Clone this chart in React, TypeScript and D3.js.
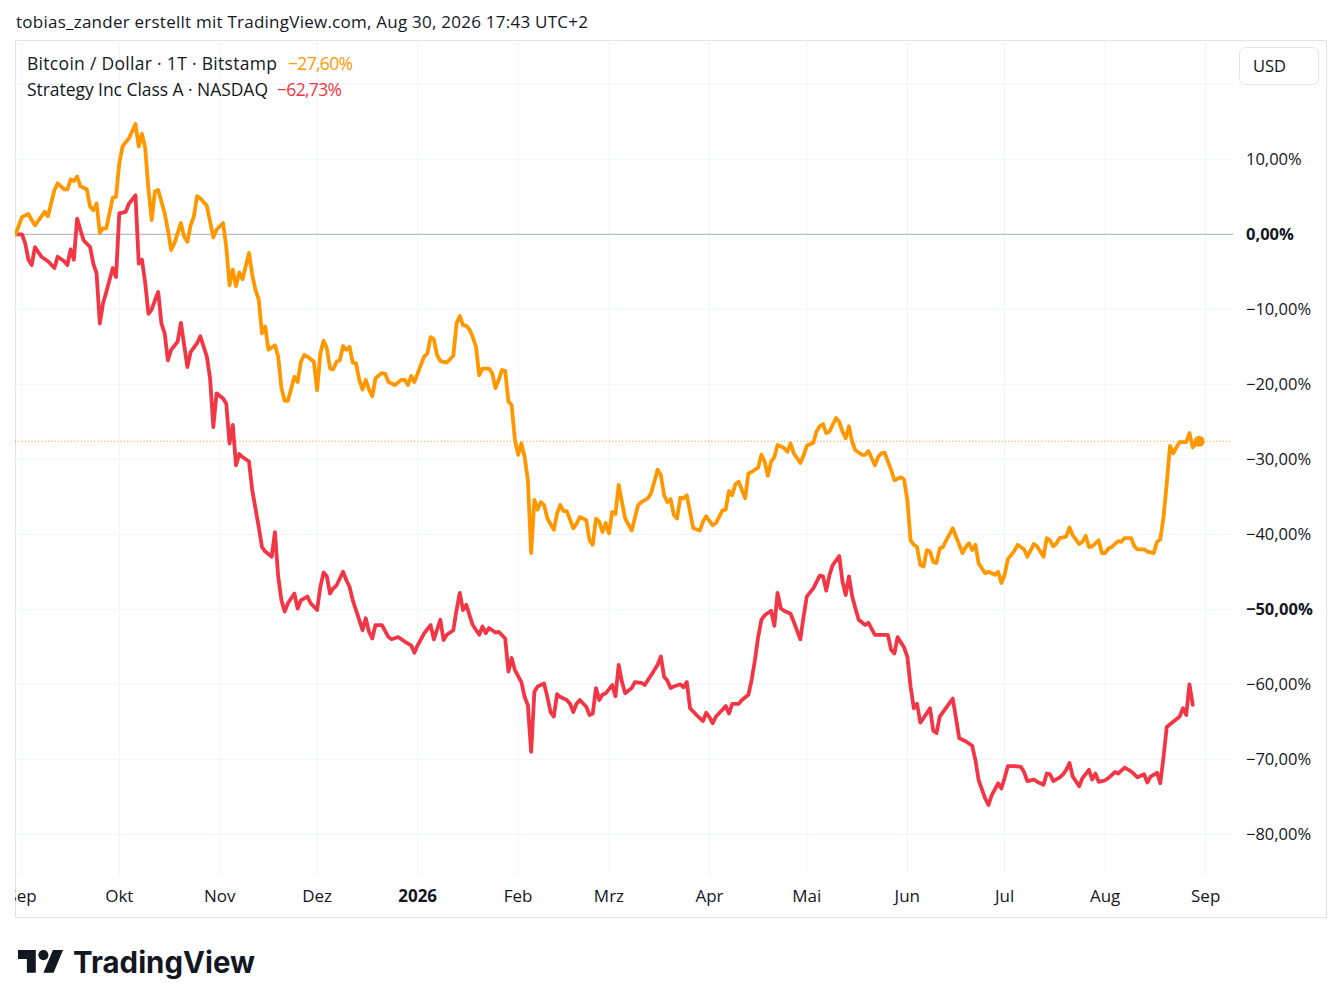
import { useMemo } from 'react';
import * as d3 from 'd3';

const width = 1341;
const height = 1007;
const frame = { left: 15, top: 40, right: 1326, bottom: 917 };
const plot = { left: 15, top: 40, right: 1233, bottom: 875 };

const startDate = new Date(2025, 7, 30);
const endDate = new Date(2026, 7, 30);

// [Tage seit 30.08.2025, Veränderung in %]
const btc: [number, number][] = [
  [0, 0], [2, 2.3], [4, 2.7], [5, 1.9], [6, 1.2], [9, 3.0], [10, 2.4], [12, 5.9], [13, 6.8], [15, 6.0],
  [16, 6.0], [17, 7.3], [18, 7.1], [19, 7.7], [20, 6.4], [22, 6.0], [23, 3.7], [24, 3.2], [25, 4.1], [26, 0.2],
  [27, 0.8], [28, 0.8], [30, 4.9], [31, 5.0], [32, 9.5], [33, 11.7], [34, 12.3], [35, 12.8], [37, 14.7], [38, 11.7],
  [39, 13.4], [40, 11.5], [41, 6.0], [42, 1.9], [43, 5.7], [44, 5.9], [46, 2.8], [47, 0.6], [48, -2.1], [49, -1.2],
  [51, 1.5], [52, -0.3], [53, -1.0], [54, 1.2], [55, 2.4], [56, 5.1], [57, 4.8], [59, 3.8], [61, -0.4], [62, 0.6],
  [64, 1.5], [65, -1.7], [66, -6.8], [67, -4.7], [68, -6.9], [69, -5.1], [70, -6.0], [72, -2.5], [73, -5.4], [74, -7.4],
  [75, -8.7], [76, -13.2], [77, -12.3], [78, -15.4], [80, -14.8], [81, -16.3], [82, -20.5], [83, -22.2], [84, -22.2], [86, -19.0],
  [87, -19.7], [88, -17.0], [89, -16.1], [90, -16.3], [92, -17.0], [93, -20.8], [94, -15.9], [95, -14.2], [96, -15.2], [97, -17.9],
  [98, -18.0], [99, -17.0], [100, -16.8], [101, -14.9], [102, -15.4], [103, -15.0], [104, -17.1], [105, -17.2], [106, -19.4], [107, -20.7],
  [108, -19.4], [109, -20.7], [110, -21.6], [111, -19.2], [113, -18.5], [114, -18.6], [115, -19.7], [117, -20.1], [119, -19.4], [120, -19.4],
  [121, -20.1], [122, -18.9], [123, -19.7], [125, -17.4], [126, -16.3], [127, -15.9], [128, -13.7], [129, -14.0], [130, -16.1], [131, -16.9],
  [133, -17.1], [135, -16.2], [136, -11.9], [137, -10.9], [138, -12.1], [139, -12.2], [140, -12.7], [141, -13.7], [142, -15.0], [143, -18.8],
  [144, -17.9], [146, -17.9], [147, -18.5], [148, -20.5], [149, -19.4], [150, -18.1], [151, -18.2], [152, -22.3], [153, -22.8], [154, -27.4],
  [155, -29.4], [156, -27.9], [157, -29.7], [158, -32.8], [159, -42.5], [160, -35.4], [161, -36.7], [162, -35.7], [163, -36.1], [164, -37.9],
  [166, -39.4], [167, -37.2], [168, -36.1], [169, -36.9], [170, -36.9], [172, -39.2], [173, -38.6], [174, -37.7], [176, -38.1], [177, -40.8],
  [178, -41.4], [179, -37.9], [180, -38.3], [181, -39.7], [182, -38.5], [183, -39.9], [184, -37.0], [185, -37.3], [186, -33.4], [187, -35.7],
  [188, -37.9], [190, -39.5], [192, -36.1], [193, -35.7], [195, -35.2], [196, -34.5], [198, -31.4], [199, -32.1], [200, -34.8], [201, -35.7],
  [202, -35.3], [203, -37.4], [204, -37.9], [205, -35.1], [206, -35.2], [207, -34.8], [209, -39.2], [211, -39.5], [212, -38.3], [213, -37.6],
  [215, -38.8], [216, -38.5], [218, -36.8], [219, -36.7], [220, -34.2], [221, -34.8], [222, -33.3], [223, -33.0], [225, -35.2], [226, -31.9],
  [227, -31.7], [229, -31.1], [230, -29.4], [231, -30.3], [232, -32.2], [233, -30.3], [234, -29.7], [235, -28.1], [237, -28.5], [238, -29.0],
  [239, -27.9], [240, -29.2], [242, -30.5], [243, -29.5], [244, -28.2], [246, -27.8], [247, -26.3], [248, -25.6], [249, -25.3], [250, -26.5],
  [251, -26.3], [253, -24.5], [254, -25.0], [255, -26.3], [256, -27.2], [257, -25.6], [258, -27.7], [259, -28.8], [261, -29.4], [262, -29.4],
  [263, -28.9], [265, -30.8], [266, -29.7], [267, -29.2], [268, -29.1], [270, -31.4], [271, -32.8], [273, -32.4], [274, -32.7], [275, -35.4],
  [276, -40.8], [277, -41.4], [278, -41.7], [279, -44.1], [280, -44.3], [281, -42.1], [282, -42.3], [283, -43.7], [284, -43.8], [285, -41.9],
  [286, -41.7], [287, -40.8], [289, -39.2], [290, -40.3], [292, -42.5], [293, -41.7], [294, -41.2], [295, -42.1], [296, -41.4], [297, -43.9],
  [299, -45.2], [300, -45.0], [302, -45.4], [303, -45.0], [304, -46.5], [305, -45.4], [306, -43.3], [308, -42.2], [309, -41.4], [311, -42.0],
  [312, -43.0], [314, -41.3], [315, -41.6], [317, -43.0], [318, -40.5], [319, -40.8], [320, -41.6], [321, -41.2], [322, -40.5], [324, -40.3],
  [325, -39.1], [326, -40.1], [328, -41.3], [329, -41.0], [330, -40.2], [331, -41.7], [332, -41.6], [334, -40.8], [335, -42.5], [336, -42.5],
  [337, -41.9], [338, -41.7], [340, -40.9], [341, -41.0], [342, -40.5], [344, -40.5], [345, -41.6], [346, -42.0], [348, -42.0], [349, -42.3],
  [351, -42.5], [352, -41.0], [353, -40.7], [354, -37.7], [355, -33.2], [356, -28.2], [357, -29.2], [358, -28.4], [359, -27.7], [361, -27.7],
  [362, -26.5], [363, -28.4], [364, -27.9], [365, -27.6],
];

const mstr: [number, number][] = [
  [0, 0], [2, 0], [3, -1.2], [4, -3.4], [5, -4.1], [6, -1.7], [8, -3.0], [10, -3.6], [12, -4.5], [13, -3.0],
  [15, -3.6], [16, -4.1], [17, -2.0], [18, -3.4], [19, 2.1], [20, 0.6], [21, -0.8], [23, -1.7], [24, -3.9], [25, -5.2],
  [26, -11.9], [27, -9.2], [28, -7.7], [30, -4.5], [31, -5.7], [32, 2.8], [34, 3.0], [35, 4.1], [37, 5.2], [38, -3.9],
  [39, -3.4], [40, -6.5], [41, -10.6], [42, -10.0], [43, -8.8], [44, -7.7], [45, -11.9], [46, -13.2], [47, -16.8], [48, -15.4],
  [50, -14.3], [51, -11.8], [53, -17.7], [54, -15.7], [56, -14.5], [57, -13.6], [59, -16.3], [60, -19.2], [61, -25.7], [62, -21.2],
  [64, -21.9], [65, -22.6], [66, -27.9], [67, -25.4], [68, -30.8], [69, -29.3], [70, -29.7], [72, -30.3], [73, -34.1], [75, -39.0],
  [76, -41.7], [77, -42.3], [79, -43.0], [80, -39.7], [81, -45.6], [82, -48.8], [83, -50.3], [84, -49.2], [86, -47.9], [87, -49.9],
  [88, -48.8], [90, -48.3], [91, -49.2], [93, -50.1], [94, -47.0], [95, -45.1], [96, -45.6], [97, -47.9], [98, -47.2], [99, -46.8],
  [101, -45.0], [102, -46.1], [103, -47.0], [104, -48.8], [105, -50.1], [106, -51.4], [107, -52.8], [108, -51.2], [109, -53.0], [110, -53.9],
  [111, -52.1], [113, -52.1], [115, -53.7], [116, -54.0], [118, -53.7], [120, -54.3], [122, -54.8], [123, -55.8], [124, -54.8], [126, -53.2],
  [128, -52.1], [129, -54.0], [131, -51.4], [132, -54.1], [133, -53.4], [135, -52.8], [136, -50.1], [137, -47.8], [138, -50.1], [139, -49.4],
  [140, -50.8], [141, -52.1], [143, -53.4], [144, -52.3], [145, -53.2], [146, -52.5], [148, -53.1], [149, -53.0], [151, -53.9], [152, -58.3],
  [153, -56.5], [154, -58.1], [156, -59.7], [157, -61.7], [158, -62.8], [159, -69.0], [160, -61.0], [161, -60.3], [163, -59.9], [164, -61.7],
  [165, -63.7], [166, -64.3], [167, -61.3], [168, -61.7], [170, -62.1], [171, -62.6], [172, -63.7], [173, -62.6], [174, -62.1], [176, -63.0],
  [177, -64.1], [178, -63.9], [179, -60.5], [180, -62.1], [181, -61.4], [182, -61.2], [184, -60.1], [185, -61.6], [186, -57.4], [187, -59.7],
  [188, -61.2], [190, -60.5], [191, -59.7], [193, -59.8], [194, -60.1], [196, -58.8], [198, -57.4], [199, -56.3], [200, -59.0], [201, -59.5],
  [202, -60.5], [203, -60.3], [205, -60.0], [206, -60.4], [207, -59.7], [208, -63.2], [210, -64.1], [212, -64.9], [213, -63.8], [214, -64.4],
  [215, -65.2], [216, -64.3], [218, -63.4], [219, -62.9], [220, -63.9], [221, -62.6], [223, -62.6], [224, -62.1], [226, -61.4], [227, -59.4],
  [228, -56.8], [229, -53.7], [230, -51.4], [231, -50.8], [233, -50.2], [234, -52.2], [235, -47.8], [236, -49.9], [237, -50.2], [239, -50.6],
  [240, -51.7], [242, -54.0], [243, -51.0], [244, -48.3], [246, -47.2], [248, -45.5], [249, -45.6], [250, -47.5], [251, -45.4], [252, -44.1],
  [254, -42.9], [255, -46.3], [256, -48.1], [257, -45.6], [258, -48.3], [259, -49.9], [260, -51.4], [262, -52.1], [263, -51.8], [265, -53.4],
  [267, -53.4], [269, -53.4], [270, -55.4], [271, -55.9], [272, -53.7], [274, -55.1], [275, -56.3], [276, -60.3], [277, -63.2], [278, -62.6],
  [279, -65.1], [280, -64.5], [282, -63.2], [283, -66.2], [284, -66.5], [285, -64.3], [287, -63.1], [289, -61.9], [290, -64.5], [291, -67.2],
  [293, -67.6], [295, -68.2], [296, -70.1], [297, -72.8], [299, -75.2], [300, -76.1], [301, -74.8], [303, -73.2], [304, -73.9], [305, -72.5],
  [306, -70.9], [308, -70.9], [310, -71.0], [311, -71.7], [312, -72.9], [314, -72.7], [315, -73.0], [317, -73.4], [318, -71.9], [319, -72.0],
  [320, -72.9], [322, -72.4], [323, -72.0], [324, -71.4], [325, -70.5], [326, -72.3], [328, -73.6], [329, -72.5], [331, -71.4], [332, -72.7],
  [333, -71.9], [334, -73.0], [336, -72.8], [337, -72.5], [339, -71.7], [340, -71.9], [342, -71.1], [344, -71.6], [345, -72.0], [346, -72.4],
  [348, -72.0], [349, -73.1], [350, -72.3], [352, -71.8], [353, -73.2], [354, -69.7], [355, -65.7], [357, -65.0], [359, -64.3], [360, -63.2],
  [361, -64.1], [362, -60.0], [363, -62.73],
];

const monthLabels = ['Sep', 'Okt', 'Nov', 'Dez', '2026', 'Feb', 'Mrz', 'Apr', 'Mai', 'Jun', 'Jul', 'Aug', 'Sep'];
const priceTicks = [10, 0, -10, -20, -30, -40, -50, -60, -70, -80];
const gridTicks = [20, 10, 0, -10, -20, -30, -40, -50, -60, -70, -80];
const boldTicks = [0, -50];
const btcName = 'Bitcoin / Dollar · 1T · Bitstamp';
const mstrName = 'Strategy Inc Class A · NASDAQ';
const headerText = 'tobias_zander erstellt mit TradingView.com, Aug 30, 2026 17:43 UTC+2';

const orange = '#ff9800';
const red = '#f23645';
const textColor = '#131722';
const font = '"Open Sans", "Noto Sans", sans-serif';

const de = d3.formatLocale({ decimal: ',', thousands: '.', grouping: [3], currency: ['', '€'], minus: '\u2212' });
const pct = (v: number) => de.format('.2f')(v) + '%';

export default function App() {
  const xScale = useMemo(() => d3.scaleTime().domain([startDate, endDate]).range([15.5, 1199.2]), []);
  const yScale = useMemo(() => d3.scaleLinear().domain([0, -80]).range([234.3, 834.3]), []);

  const toDate = (d: number) => d3.timeDay.offset(startDate, d);
  const line = d3.line<[number, number]>()
    .x((d) => xScale(toDate(d[0])))
    .y((d) => yScale(d[1]));

  const months = d3.timeMonth.range(new Date(2025, 8, 1), new Date(2026, 8, 2));
  const btcLast = btc[btc.length - 1];
  const mstrLast = mstr[mstr.length - 1];

  return (
    <div style={{ position: 'absolute', left: 0, top: 0, background: '#fff' }}>
      <svg width={width} height={height} style={{ display: 'block' }}>
        <defs>
          <clipPath id="plotClip">
            <rect x={plot.left} y={plot.top} width={plot.right - plot.left} height={plot.bottom - plot.top} />
          </clipPath>
          <clipPath id="timeClip">
            <rect x={frame.left} y={plot.bottom} width={plot.right - frame.left} height={frame.bottom - plot.bottom} />
          </clipPath>
        </defs>
        <rect x={0} y={0} width={width} height={height} fill="#fff" />

        <text x={16} y={28} fontFamily={font} fontSize={17} fill={textColor} textLength={572} lengthAdjust="spacing">
          {headerText}
        </text>

        <rect x={frame.left + 0.5} y={frame.top + 0.5} width={frame.right - frame.left} height={frame.bottom - frame.top}
          fill="none" stroke="#e0e3eb" />

        <g clipPath="url(#plotClip)">
          {months.map((m, i) => (
            <line key={'v' + i} x1={xScale(m)} x2={xScale(m)} y1={plot.top} y2={plot.bottom} stroke="#f0f3fa" />
          ))}
          {gridTicks.map((t) => (
            <line key={'h' + t} x1={plot.left} x2={plot.right} y1={yScale(t)} y2={yScale(t)}
              stroke={t === 0 ? '#a7aab3' : '#f0f3fa'} />
          ))}
          <line x1={plot.left} x2={plot.right} y1={yScale(btcLast[1])} y2={yScale(btcLast[1])}
            stroke={orange} strokeDasharray="1 2.3" strokeWidth={1.1} />
          <path d={line(mstr) || ''} fill="none" stroke={red} strokeWidth={3.8} strokeLinejoin="round" strokeLinecap="round" />
          <path d={line(btc) || ''} fill="none" stroke={orange} strokeWidth={3.8} strokeLinejoin="round" strokeLinecap="round" />
          <circle cx={xScale(toDate(btcLast[0]))} cy={yScale(btcLast[1])} r={5.5} fill={orange} />
        </g>

        <g fontFamily={font} fontSize={17.5} fill={textColor}>
          <text x={27} y={70} textLength={250} lengthAdjust="spacing">{btcName}</text>
          <text x={288} y={70} fill={orange} textLength={65} lengthAdjust="spacing">{pct(btcLast[1])}</text>
          <text x={27} y={96} textLength={241} lengthAdjust="spacing">{mstrName}</text>
          <text x={277} y={96} fill={red} textLength={65} lengthAdjust="spacing">{pct(mstrLast[1])}</text>
        </g>

        <rect x={1239.5} y={47.5} width={79} height={37} rx={6} fill="#fff" stroke="#e0e3eb" />
        <text x={1253} y={72} fontFamily={font} fontSize={16.5} fill={textColor}>USD</text>

        <g fontFamily={font} fontSize={16.5} fill={textColor}>
          {priceTicks.map((t) => (
            <text key={'p' + t} x={1246} y={yScale(t) + 6} fontWeight={boldTicks.includes(t) ? 700 : 400}>
              {pct(t)}
            </text>
          ))}
        </g>

        <g clipPath="url(#timeClip)" fontFamily={font} fontSize={17} fill={textColor}>
          {months.map((m, i) => (
            <text key={'t' + i} x={xScale(m)} y={902} textAnchor="middle"
              fontWeight={monthLabels[i] === '2026' ? 700 : 400}>
              {monthLabels[i]}
            </text>
          ))}
        </g>

        <g transform="translate(18,950) scale(1.27)" fill="#131722">
          <path d="M14 18H7V7H0V0h14v18ZM28 18h-8l7.5-18h8L28 18Z" />
          <circle cx={20} cy={4} r={4} />
        </g>
        <text x={73} y={973} fontFamily="Inter, 'Noto Sans', sans-serif" fontWeight={700}
          fontSize={30} fill="#131722" textLength={182} lengthAdjust="spacingAndGlyphs">
          TradingView
        </text>
      </svg>
    </div>
  );
}
